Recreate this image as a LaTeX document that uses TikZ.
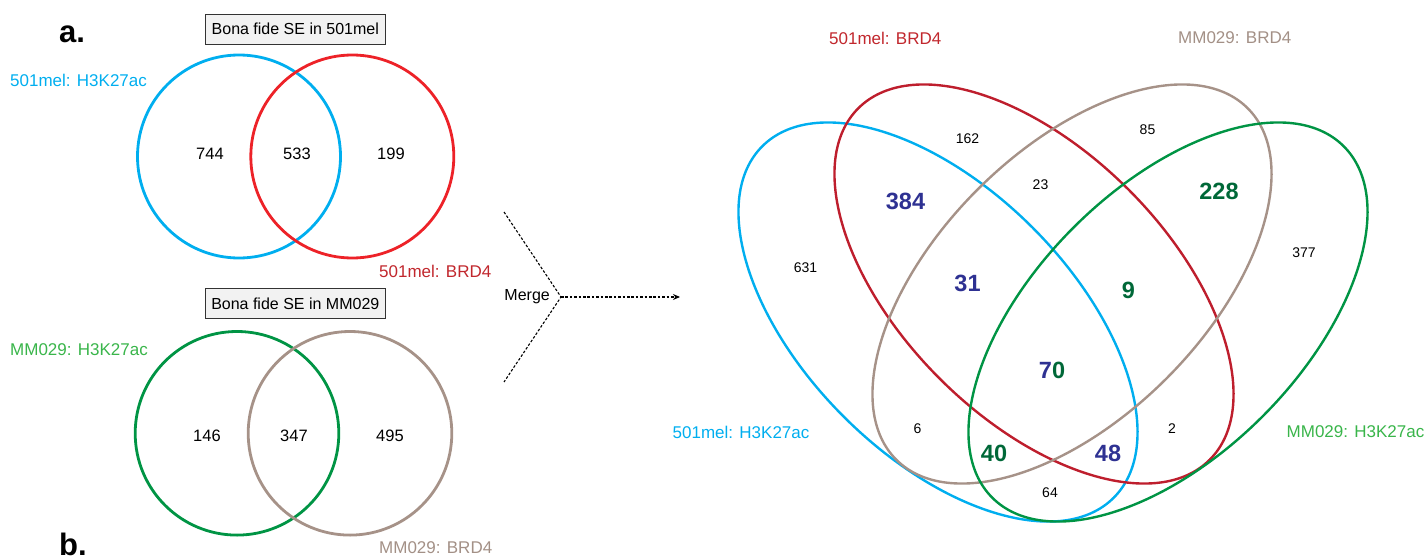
\documentclass[tikz,border=0pt]{standalone}
\usepackage{fontspec}
\setmainfont{Liberation Sans}
\usetikzlibrary{arrows.meta}

% set colours
\definecolor{setcyan}{RGB}{0,174,239}
\definecolor{setred}{RGB}{237,34,40}
\definecolor{setcrimson}{RGB}{190,30,45}
\definecolor{setgreen}{RGB}{0,148,68}
\definecolor{setbrown}{RGB}{166,146,136}
\definecolor{labcrimson}{RGB}{193,39,45}
\definecolor{labgreen}{RGB}{57,181,74}
\definecolor{labbrown}{RGB}{163,144,134}
\definecolor{numnavy}{RGB}{46,49,146}
\definecolor{numgreen}{RGB}{0,104,56}
\definecolor{boxfill}{RGB}{242,242,242}

\begin{document}
\begin{tikzpicture}[x=1pt,y=-1pt,
  setlabel/.style={inner sep=0pt, font=\fontsize{17}{20}\selectfont},
  pairnum/.style={inner sep=0pt, font=\fontsize{16.5}{19}\selectfont},
  smallnum/.style={inner sep=0pt, font=\fontsize{14}{16}\selectfont},
  boldnum/.style={inner sep=0pt, font=\bfseries\fontsize{23.5}{26}\selectfont},
  panel/.style={inner sep=0pt, anchor=base west, font=\bfseries\fontsize{31}{34}\selectfont},
  titlebox/.style={draw=black!80, fill=boxfill, line width=1.1pt,
    minimum width=180pt, minimum height=30pt, inner sep=0pt,
    font=\fontsize{16}{19}\selectfont},
  pairring/.style={line width=2.8pt},
  fourring/.style={line width=2.4pt},
  mergeline/.style={line width=1.1pt, dash pattern=on 2.6pt off 1.8pt}
]
\useasboundingbox (0,0) rectangle (1426,559);

% panel letters
\node[panel] (pa) at (59,43) {a.};
\node[panel] (pb) at (59,555) {b.};

% ---- pairwise diagram: 501mel ----
\node[titlebox] (box1) at (295.3,29.2) {Bona fide SE in 501mel};
\draw[pairring, setcyan] (239,156.5) circle[radius=101.5pt];
\draw[pairring, setred] (352.3,156.5) circle[radius=101.5pt];
\node[setlabel, anchor=west, text=setcyan] (l1) at (10,80) {501mel: H3K27ac};
\node[setlabel, anchor=west, text=labcrimson] (l2) at (379,271) {501mel: BRD4};
\node[pairnum] (n744) at (210,154) {744};
\node[pairnum] (n533) at (297,154) {533};
\node[pairnum] (n199) at (391,154) {199};

% ---- pairwise diagram: MM029 ----
\node[titlebox] (box2) at (295.3,303.7) {Bona fide SE in MM029};
\draw[pairring, setgreen] (237,433.3) circle[radius=101.8pt];
\draw[pairring, setbrown] (350,433.3) circle[radius=101.8pt];
\node[setlabel, anchor=west, text=labgreen] (l3) at (10,349.5) {MM029: H3K27ac};
\node[setlabel, anchor=west, text=labbrown] (l4) at (379,548) {MM029: BRD4};
\node[pairnum] (n146) at (207,436) {146};
\node[pairnum] (n347) at (294,436) {347};
\node[pairnum] (n495) at (390,436) {495};

% ---- merge arrow ----
\coordinate (mTop) at (504,212);
\coordinate (mJoin) at (561,297);
\coordinate (mBot) at (504,382);
\coordinate (mEnd) at (680,297);
\draw[mergeline] (mTop) -- (mJoin) -- (mBot);
\draw[mergeline, -{Stealth[length=7pt,width=6pt]}] (mJoin) -- (mEnd);
\node[inner sep=0pt, anchor=east, font=\fontsize{16}{18}\selectfont] (merge) at (550,297) {Merge};

% ---- four-set diagram ----
\draw[fourring, setcyan, rotate around={-45:(938,322)}] (938,322) ellipse[x radius=248.5pt, y radius=133.6pt];
\draw[fourring, setcrimson, rotate around={-45:(1034,284)}] (1034,284) ellipse[x radius=248.5pt, y radius=133.6pt];
\draw[fourring, setbrown, rotate around={45:(1072,284)}] (1072,284) ellipse[x radius=248.5pt, y radius=133.6pt];
\draw[fourring, setgreen, rotate around={45:(1168,322)}] (1168,322) ellipse[x radius=248.5pt, y radius=133.6pt];

\node[setlabel, anchor=west, text=labcrimson] (L2) at (829,38) {501mel: BRD4};
\node[setlabel, anchor=west, text=labbrown] (L4) at (1178,38) {MM029: BRD4};
\node[setlabel, anchor=west, text=setcyan] (L1) at (672.5,432) {501mel: H3K27ac};
\node[setlabel, anchor=west, text=labgreen] (L3) at (1286.5,432) {MM029: H3K27ac};

\node[smallnum] (c162) at (967.5,139) {162};
\node[smallnum] (c85) at (1147.5,130) {85};
\node[smallnum] (c23) at (1040.5,185) {23};
\node[smallnum] (c631) at (805.5,268) {631};
\node[smallnum] (c377) at (1304,253) {377};
\node[smallnum] (c6) at (917.5,429) {6};
\node[smallnum] (c2) at (1172,429) {2};
\node[smallnum] (c64) at (1050,493) {64};

\node[boldnum, text=numnavy] (c384) at (905.5,201) {384};
\node[boldnum, text=numgreen] (c228) at (1219,191) {228};
\node[boldnum, text=numnavy] (c31) at (967.5,283) {31};
\node[boldnum, text=numgreen] (c9) at (1128.5,290) {9};
\node[boldnum] (c70) at (1052,370) {\textcolor{numnavy}{7}\textcolor{numgreen}{0}};
\node[boldnum, text=numgreen] (c40) at (994,453) {40};
\node[boldnum, text=numnavy] (c48) at (1108,453) {48};
\end{tikzpicture}
\end{document}
